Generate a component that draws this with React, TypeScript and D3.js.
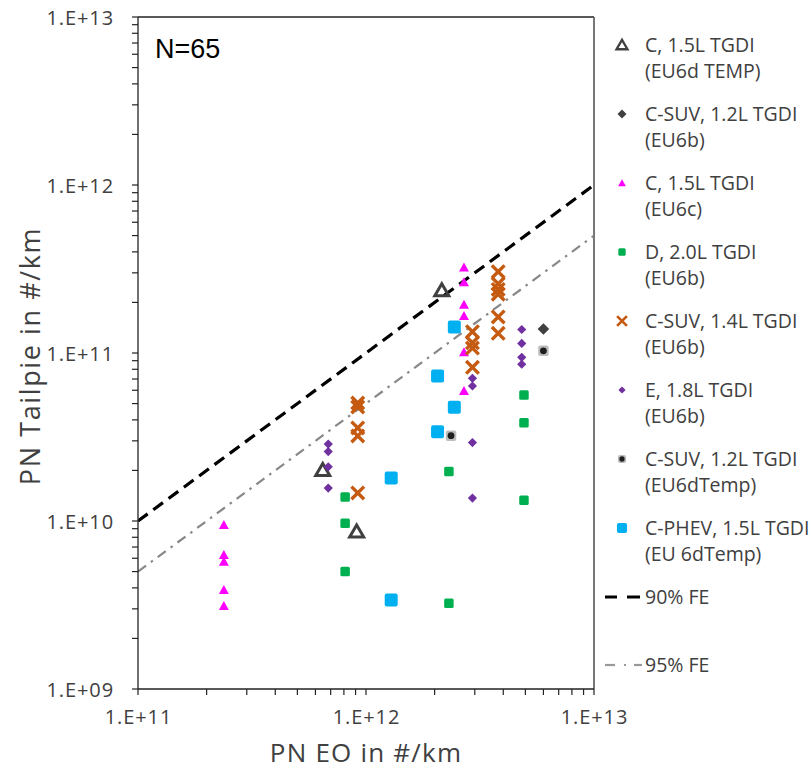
import React from "react";
import * as d3 from "d3";

// ---------- data ----------
const xTickValues = [1e11, 1e12, 1e13];
const xTickLabels = ["1.E+11", "1.E+12", "1.E+13"];
const yTickValues = [1e9, 1e10, 1e11, 1e12, 1e13];
const yTickLabels = ["1.E+09", "1.E+10", "1.E+11", "1.E+12", "1.E+13"];

// C, 1.5L TGDI (EU6d TEMP)
const s1X = [2.15e12, 6.46e11, 9.1e11];
const s1Y = [2.36e11, 2.01e10, 8.64e9];
// C-SUV, 1.2L TGDI (EU6b)
const s2X = [6.0e12];
const s2Y = [1.39e11];
// C, 1.5L TGDI (EU6c)
const s3X = [2.69e12, 2.69e12, 2.69e12, 2.69e12, 2.69e12, 2.69e12, 2.38e11, 2.38e11, 2.38e11, 2.38e11, 2.38e11];
const s3Y = [3.23e11, 2.64e11, 1.94e11, 1.66e11, 1.01e11, 5.94e10, 9.47e9, 6.28e9, 5.72e9, 3.89e9, 3.12e9];
// D, 2.0L TGDI (EU6b)
const s4X = [8.1e11, 8.1e11, 8.1e11, 2.31e12, 2.31e12, 4.93e12, 4.93e12, 4.93e12];
const s4Y = [1.39e10, 9.7e9, 5.0e9, 1.97e10, 3.24e9, 5.62e10, 3.85e10, 1.33e10];
// C-SUV, 1.4L TGDI (EU6b)
const s5X = [9.2e11, 9.2e11, 9.2e11, 9.2e11, 9.2e11, 2.93e12, 2.93e12, 2.93e12, 2.93e12, 3.8e12, 3.8e12, 3.8e12, 3.8e12, 3.8e12, 3.8e12];
const s5Y = [5.04e10, 4.77e10, 3.58e10, 3.21e10, 1.47e10, 1.34e11, 1.15e11, 1.07e11, 8.22e10, 3.05e11, 2.58e11, 2.39e11, 2.24e11, 1.64e11, 1.31e11];
// E, 1.8L TGDI (EU6b)
const s6X = [6.83e11, 6.83e11, 6.83e11, 6.83e11, 2.93e12, 2.93e12, 2.93e12, 2.93e12, 4.82e12, 4.82e12, 4.82e12, 4.82e12];
const s6Y = [2.87e10, 2.59e10, 2.1e10, 1.57e10, 7.07e10, 6.36e10, 2.93e10, 1.37e10, 1.38e11, 1.14e11, 9.43e10, 8.57e10];
// C-SUV, 1.2L TGDI (EU6dTemp)
const s7X = [2.36e12, 6.0e12];
const s7Y = [3.22e10, 1.03e11];
// C-PHEV, 1.5L TGDI (EU 6dTemp)
const s8X = [2.44e12, 2.06e12, 2.44e12, 2.06e12, 1.29e12, 1.29e12];
const s8Y = [1.43e11, 7.3e10, 4.75e10, 3.4e10, 1.8e10, 3.39e9];

const seriesLine1 = ["C, 1.5L TGDI", "C-SUV, 1.2L TGDI", "C, 1.5L TGDI", "D, 2.0L TGDI", "C-SUV, 1.4L TGDI", "E, 1.8L TGDI", "C-SUV, 1.2L TGDI", "C-PHEV, 1.5L TGDI"];
const seriesLine2 = ["(EU6d TEMP)", "(EU6b)", "(EU6c)", "(EU6b)", "(EU6b)", "(EU6b)", "(EU6dTemp)", "(EU 6dTemp)"];
const seriesTypes = ["triHollow", "darkDiamond", "magTri", "greenSq", "orangeX", "purpleDiamond", "greySq", "cyanSq"];
const seriesXs = [s1X, s2X, s3X, s4X, s5X, s6X, s7X, s8X];
const seriesYs = [s1Y, s2Y, s3Y, s4Y, s5Y, s6Y, s7Y, s8Y];

// filtration-efficiency reference lines: tailpipe = (1 - FE) * engine-out
const feLabels = ["90% FE", "95% FE"];
const feFactors = [0.1, 0.05];

const nLabel = "N=65";
const xTitle = "PN EO in #/km";
const yTitle = "PN Tailpie in #/km";

// ---------- layout ----------
const W = 811, H = 771;
const L = 138, R = 594, T = 17, B = 689;
const xScale = d3.scaleLog().domain([1e11, 1e13]).range([L, R]);
const yScale = d3.scaleLog().domain([1e9, 1e13]).range([B, T]);

const FONT = "'Open Sans', sans-serif";
const TXT = "#404040";

function Marker({ type, x, y, k = 1 }: { type: string; x: number; y: number; k?: number }) {
  switch (type) {
    case "triHollow": {
      const w = 14 * k, h = 12 * k;
      return <path d={`M${x},${y - h * 0.55}L${x + w / 2},${y + h * 0.45}L${x - w / 2},${y + h * 0.45}Z`} fill="none" stroke="#404040" strokeWidth={3 * k} strokeLinejoin="miter" />;
    }
    case "darkDiamond": {
      const r = 5.8 * k;
      return <path d={`M${x},${y - r}L${x + r},${y}L${x},${y + r}L${x - r},${y}Z`} fill="#404040" />;
    }
    case "magTri": {
      const w = 10 * k, h = 9 * k;
      return <path d={`M${x},${y - h * 0.55}L${x + w / 2},${y + h * 0.45}L${x - w / 2},${y + h * 0.45}Z`} fill="#FF00FF" />;
    }
    case "greenSq": {
      const s = 9.5 * k;
      return <rect x={x - s / 2} y={y - s / 2} width={s} height={s} rx={1.5} fill="#00B050" />;
    }
    case "orangeX": {
      const r = 6.3 * k;
      return <path d={`M${x - r},${y - r}L${x + r},${y + r}M${x - r},${y + r}L${x + r},${y - r}`} stroke="#C55A11" strokeWidth={3.4 * k} fill="none" />;
    }
    case "purpleDiamond": {
      const r = 4.6 * k;
      return <path d={`M${x},${y - r}L${x + r},${y}L${x},${y + r}L${x - r},${y}Z`} fill="#7030A0" />;
    }
    case "greySq": {
      const s = 10.5 * k;
      return (
        <g>
          <rect x={x - s / 2} y={y - s / 2} width={s} height={s} rx={2} fill="#bdbdbd" />
          <circle cx={x} cy={y} r={3.4 * k} fill="#1e1e1e" />
        </g>
      );
    }
    case "cyanSq": {
      const s = 13 * k;
      return <rect x={x - s / 2} y={y - s / 2} width={s} height={s} rx={2} fill="#00B0F0" />;
    }
  }
  return null;
}

export default function App() {
  const xMinor = xScale.ticks();
  const yMinor = yScale.ticks();
  const feX = [1e11, 1e13];

  return (
    <svg width={W} height={H} style={{ position: "absolute", left: 0, top: 0, background: "#fff" }} fontFamily={FONT}>
      <defs>
        <clipPath id="plotClip">
          <rect x={L} y={T} width={R - L} height={B - T} />
        </clipPath>
      </defs>
      <rect x={0} y={0} width={W} height={H} fill="#fff" />

      {/* frame */}
      <line x1={L} y1={T} x2={R} y2={T} stroke="#222" strokeWidth={1.3} />
      <line x1={R} y1={T} x2={R} y2={B} stroke="#555" strokeWidth={1.6} />

      {/* FE lines */}
      <g clipPath="url(#plotClip)">
        {feFactors.map((f, i) => {
          const d = d3.line<number>().x((v) => xScale(v)).y((v) => yScale(v * f))(feX) as string;
          return i === 0 ? (
            <path key={i} d={d} stroke="#000" strokeWidth={3.2} strokeDasharray="12,7" fill="none" />
          ) : (
            <path key={i} d={d} stroke="#888" strokeWidth={2.2} strokeDasharray="10,6,2.5,6" fill="none" />
          );
        })}
      </g>

      {/* points */}
      {seriesTypes.map((t, si) => (
        <g key={si}>
          {seriesXs[si].map((xv, j) => (
            <Marker key={j} type={t} x={xScale(xv)} y={yScale(seriesYs[si][j])} />
          ))}
        </g>
      ))}

      {/* axes */}
      <line x1={L} y1={T} x2={L} y2={B} stroke="#222" strokeWidth={1.3} />
      <line x1={L} y1={B} x2={R} y2={B} stroke="#222" strokeWidth={1.3} />
      {xMinor.map((v, i) => (
        <line key={"xm" + i} x1={xScale(v)} x2={xScale(v)} y1={B} y2={B + 6} stroke="#222" strokeWidth={1.2} />
      ))}
      {yMinor.map((v, i) => (
        <line key={"ym" + i} x1={L - 6} x2={L} y1={yScale(v)} y2={yScale(v)} stroke="#222" strokeWidth={1.2} />
      ))}
      {xTickValues.map((v, i) => (
        <text key={"xl" + i} x={xScale(v) + 0.5} y={724} textAnchor="middle" fontSize={20} letterSpacing={0.9} fill={TXT}>
          {xTickLabels[i]}
        </text>
      ))}
      {yTickValues.map((v, i) => (
        <text key={"yl" + i} x={114} y={yScale(v) + 8} textAnchor="end" fontSize={20} letterSpacing={0.9} fill={TXT}>
          {yTickLabels[i]}
        </text>
      ))}

      {/* titles */}
      <text x={(L + R) / 2} y={762} textAnchor="middle" fontSize={26} letterSpacing={1.2} fill={TXT}>
        {xTitle}
      </text>
      <text transform={`translate(40,356) rotate(-90)`} textAnchor="middle" fontSize={27} letterSpacing={1.6} fill={TXT}>
        {yTitle}
      </text>
      <text x={155} y={58} fontFamily="'Liberation Sans', Arial, sans-serif" fontSize={27} fill="#000">
        {nLabel}
      </text>

      {/* legend */}
      {seriesTypes.map((t, i) => {
        const cy = 45 + i * 69;
        return (
          <g key={"lg" + i}>
            <Marker type={t} x={622} y={cy} k={0.78} />
            <text x={645} y={cy + 7} fontSize={19.5} fill={TXT}>{seriesLine1[i]}</text>
            <text x={645} y={cy + 33} fontSize={19.5} fill={TXT}>{seriesLine2[i]}</text>
          </g>
        );
      })}
      <g>
        <line x1={605} x2={617} y1={597} y2={597} stroke="#000" strokeWidth={3} />
        <line x1={627} x2={640} y1={597} y2={597} stroke="#000" strokeWidth={3} />
        <text x={645} y={604} fontSize={19.5} fill={TXT}>{feLabels[0]}</text>
        <line x1={605} x2={615} y1={665} y2={665} stroke="#999" strokeWidth={2.2} />
        <line x1={624} x2={626} y1={665} y2={665} stroke="#999" strokeWidth={2.2} />
        <line x1={634} x2={642} y1={665} y2={665} stroke="#999" strokeWidth={2.2} />
        <text x={645} y={672} fontSize={19.5} fill={TXT}>{feLabels[1]}</text>
      </g>
    </svg>
  );
}
